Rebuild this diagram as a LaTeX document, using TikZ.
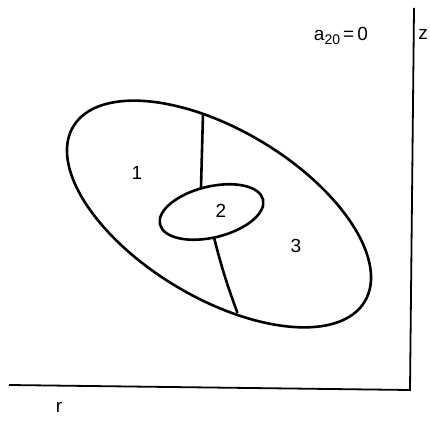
\documentclass[tikz,border=0pt]{standalone}
\usepackage{fontspec}
\setmainfont{Liberation Sans}
\begin{document}
\begin{tikzpicture}[x=1pt,y=1pt,
  curve/.style={line width=2.6pt},
  axis/.style={line width=1.8pt},
  lbl/.style={font=\fontsize{19}{21}\selectfont, inner sep=0pt}]
\useasboundingbox (0,0) rectangle (430,420);
% axes
\coordinate (xl) at (9,35);
\coordinate (corner) at (410,30);
\coordinate (zt) at (414,412);
\draw[axis] (xl) -- (corner) -- (zt);
% big ellipse
\draw[curve] (219,206) ellipse[x radius=170, y radius=84, rotate=-31];
% small ellipse
\draw[curve] (211.5,208) ellipse[x radius=53, y radius=25.5, rotate=13.6];
% dividers
\coordinate (u1) at (203,306.5);
\coordinate (u2) at (201,232.5);
\coordinate (l1) at (214,182.5);
\coordinate (l2) at (237.5,107);
\draw[curve] (u1) -- (u2);
\draw[curve] (l1) to[bend right=3] (l2);
% labels
\node[lbl] (n1) at (137,247) {1};
\node[lbl] (n2) at (221,209) {2};
\node[lbl] (n3) at (296,174) {3};
\node[lbl, anchor=base] (a) at (341,379) {a\raisebox{-4pt}{\fontsize{14}{16}\selectfont 20}\,=\,0};
\node[lbl] (z) at (423,386) {z};
\node[lbl] (r) at (59,13) {r};
\end{tikzpicture}
\end{document}
